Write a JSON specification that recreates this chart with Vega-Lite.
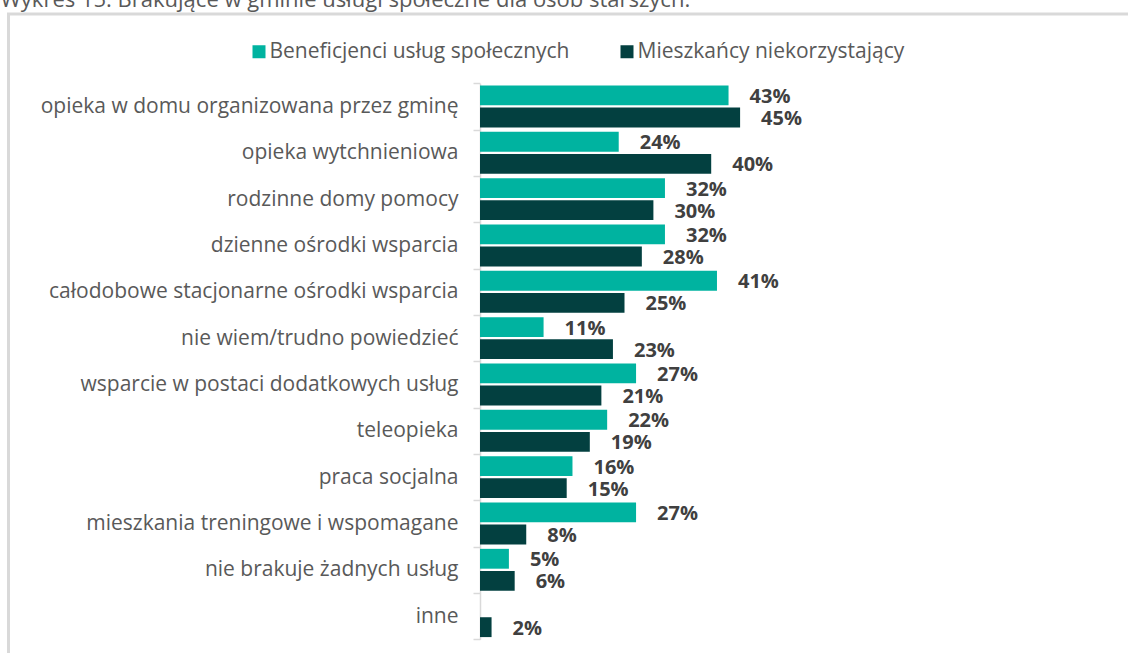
{
  "$schema": "https://vega.github.io/schema/vega-lite/v6.json",
  "autosize": "none",
  "padding": {"left": 8.5, "top": 14, "right": 0, "bottom": 0},
  "width": 1122.5,
  "height": 642,
  "background": "white",
  "config": {
    "font": "Open Sans",
    "view": {"stroke": "#D9D9D9", "strokeWidth": 3}
  },
  "title": {
    "text": "Wykres 15. Brakujące w gminie usługi społeczne dla osób starszych.",
    "anchor": "start",
    "frame": "group",
    "dx": -8,
    "dy": 25.5,
    "offset": 0,
    "baseline": "alphabetic",
    "font": "Open Sans",
    "fontSize": 22,
    "fontWeight": "normal",
    "color": "#595959"
  },
  "data": {
    "values": [
      {"kategoria": "opieka w domu organizowana przez gminę", "grupa": "Beneficjenci usług społecznych", "wartosc": 0.43},
      {"kategoria": "opieka w domu organizowana przez gminę", "grupa": "Mieszkańcy niekorzystający", "wartosc": 0.45},
      {"kategoria": "opieka wytchnieniowa", "grupa": "Beneficjenci usług społecznych", "wartosc": 0.24},
      {"kategoria": "opieka wytchnieniowa", "grupa": "Mieszkańcy niekorzystający", "wartosc": 0.40},
      {"kategoria": "rodzinne domy pomocy", "grupa": "Beneficjenci usług społecznych", "wartosc": 0.32},
      {"kategoria": "rodzinne domy pomocy", "grupa": "Mieszkańcy niekorzystający", "wartosc": 0.30},
      {"kategoria": "dzienne ośrodki wsparcia", "grupa": "Beneficjenci usług społecznych", "wartosc": 0.32},
      {"kategoria": "dzienne ośrodki wsparcia", "grupa": "Mieszkańcy niekorzystający", "wartosc": 0.28},
      {"kategoria": "całodobowe stacjonarne ośrodki wsparcia", "grupa": "Beneficjenci usług społecznych", "wartosc": 0.41},
      {"kategoria": "całodobowe stacjonarne ośrodki wsparcia", "grupa": "Mieszkańcy niekorzystający", "wartosc": 0.25},
      {"kategoria": "nie wiem/trudno powiedzieć", "grupa": "Beneficjenci usług społecznych", "wartosc": 0.11},
      {"kategoria": "nie wiem/trudno powiedzieć", "grupa": "Mieszkańcy niekorzystający", "wartosc": 0.23},
      {"kategoria": "wsparcie w postaci dodatkowych usług", "grupa": "Beneficjenci usług społecznych", "wartosc": 0.27},
      {"kategoria": "wsparcie w postaci dodatkowych usług", "grupa": "Mieszkańcy niekorzystający", "wartosc": 0.21},
      {"kategoria": "teleopieka", "grupa": "Beneficjenci usług społecznych", "wartosc": 0.22},
      {"kategoria": "teleopieka", "grupa": "Mieszkańcy niekorzystający", "wartosc": 0.19},
      {"kategoria": "praca socjalna", "grupa": "Beneficjenci usług społecznych", "wartosc": 0.16},
      {"kategoria": "praca socjalna", "grupa": "Mieszkańcy niekorzystający", "wartosc": 0.15},
      {"kategoria": "mieszkania treningowe i wspomagane", "grupa": "Beneficjenci usług społecznych", "wartosc": 0.27},
      {"kategoria": "mieszkania treningowe i wspomagane", "grupa": "Mieszkańcy niekorzystający", "wartosc": 0.08},
      {"kategoria": "nie brakuje żadnych usług", "grupa": "Beneficjenci usług społecznych", "wartosc": 0.05},
      {"kategoria": "nie brakuje żadnych usług", "grupa": "Mieszkańcy niekorzystający", "wartosc": 0.06},
      {"kategoria": "inne", "grupa": "Mieszkańcy niekorzystający", "wartosc": 0.02}
    ]
  },
  "encoding": {
    "y": {
      "field": "kategoria",
      "type": "nominal",
      "sort": null,
      "scale": {"range": [69.3, 625.3], "paddingInner": 0, "paddingOuter": 0},
      "axis": {
        "title": null,
        "orient": "left",
        "offset": -471.5,
        "domainColor": "#D9D9D9",
        "domainWidth": 1.5,
        "tickColor": "#D9D9D9",
        "tickWidth": 1.5,
        "tickSize": 7,
        "tickBand": "extent",
        "labelPadding": 15,
        "labelFont": "Open Sans",
        "labelFontSize": 21,
        "labelColor": "#595959",
        "labelLimit": 600
      }
    },
    "yOffset": {
      "field": "grupa",
      "type": "nominal",
      "scale": {
        "domain": ["Beneficjenci usług społecznych", "Mieszkańcy niekorzystający"],
        "paddingInner": 0.1,
        "paddingOuter": 0.1
      }
    },
    "x": {
      "field": "wartosc",
      "type": "quantitative",
      "scale": {"domain": [0, 0.5], "range": [471.5, 760.5], "nice": false, "zero": true},
      "axis": null
    }
  },
  "layer": [
    {
      "mark": {"type": "bar"},
      "encoding": {
        "color": {
          "field": "grupa",
          "type": "nominal",
          "scale": {
            "domain": ["Beneficjenci usług społecznych", "Mieszkańcy niekorzystający"],
            "range": ["#00B3A0", "#034040"]
          },
          "legend": {
            "title": null,
            "orient": "none",
            "direction": "horizontal",
            "legendX": 240,
            "legendY": 27,
            "padding": 0,
            "symbolType": "square",
            "symbolSize": 169,
            "symbolStrokeWidth": 0,
            "labelFont": "Open Sans",
            "labelFontSize": 21,
            "labelColor": "#595959",
            "labelOffset": 0,
            "columnPadding": 47,
            "labelLimit": 500
          }
        }
      }
    },
    {
      "mark": {
        "type": "text",
        "align": "left",
        "baseline": "middle",
        "dx": 21,
        "dy": 1.5,
        "font": "Open Sans",
        "fontSize": 20,
        "fontWeight": "bold",
        "color": "#404040"
      },
      "encoding": {
        "text": {"field": "wartosc", "type": "quantitative", "format": ".0%"}
      }
    }
  ]
}
